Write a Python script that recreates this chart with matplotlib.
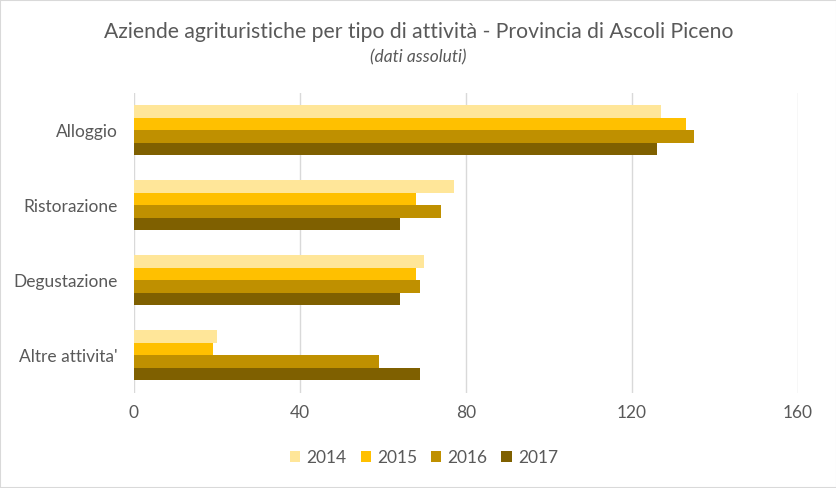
import matplotlib
matplotlib.use("Agg")
import matplotlib.pyplot as plt
import numpy as np

categories = ["Alloggio", "Ristorazione", "Degustazione", "Altre attivita'"]
years = ["2014", "2015", "2016", "2017"]
v2014 = [127, 77, 70, 20]
v2015 = [133, 68, 68, 19]
v2016 = [135, 74, 69, 59]
v2017 = [126, 64, 64, 69]
colors = ["#FFE699", "#FFC000", "#BF9000", "#7F6000"]
xticks = [0, 40, 80, 120, 160]

plt.rcParams['font.family'] = ['Lato', 'DejaVu Sans']
fig = plt.figure(figsize=(8.37, 4.88), dpi=100)
ax = fig.add_axes([134/837, 1-392.5/488, (798-134)/837, 300/488])

series = [v2014, v2015, v2016, v2017]
n = len(categories)
y = np.arange(n)
h = 0.1667
for i, (vals, c, yr) in enumerate(zip(series, colors, years)):
    ax.barh(y - 0.25 + i*h, vals, height=h, color=c, label=yr, zorder=3)

ax.set_ylim(n - 0.5, -0.5)
ax.set_xlim(0, 160)
ax.set_xticks(xticks)
ax.set_yticks(y)
ax.set_yticklabels(categories)
ax.tick_params(axis='both', length=0, colors='#595959', labelsize=12.5)
ax.tick_params(axis='x', pad=9)
ax.tick_params(axis='y', pad=12)
ax.grid(axis='x', color='#D9D9D9', linewidth=1, zorder=0)
for s in ax.spines.values():
    s.set_visible(False)

fig.text(0.5, 1-32/488, "Aziende agrituristiche per tipo di attività - Provincia di Ascoli Piceno",
         ha='center', va='center', fontsize=15.2, color='#595959')
fig.text(0.5, 1-57/488, "(dati assoluti)", ha='center', va='center', fontsize=12.5,
         style='italic', color='#595959')

leg = fig.legend(loc='center', bbox_to_anchor=(424/837, 1-458/488), ncol=4, frameon=False,
                 fontsize=12.5, handlelength=0.6, handleheight=0.6, columnspacing=0.8,
                 handletextpad=0.35, labelcolor='#595959')

fig.add_artist(plt.Rectangle((0, 0), 1, 1, transform=fig.transFigure, fill=False,
                             edgecolor='#D9D9D9', linewidth=1.5))
fig.savefig("out.png", dpi=100)
